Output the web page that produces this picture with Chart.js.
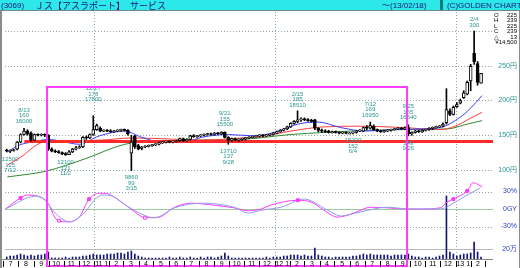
<!DOCTYPE html>
<html>
<head>
<meta charset="utf-8">
<script src="https://cdn.jsdelivr.net/npm/chart.js@4.4.1/dist/chart.umd.min.js"></script>
<style>
  html, body { margin: 0; padding: 0; background: #fff; overflow: hidden; }
  #myChart { display: block; }
</style>
</head>
<body>
<canvas id="myChart" width="520" height="268"></canvas>
<script>
// weekly candles, first week starts Mon 2010-07-05
const firstWeek = '2010-07-05';

const opens = [128,127,128,130,140,151,156,153,143,151, 150,151,150,130,127,126,125,123,122,126,
  130,132,133,147,146,151,158,160,156,157, 156,155,156,157,158,157,124,149,135,131,
  133,134,135,136,137,139,140,141,140,141, 142,145,142,144,149,148,149,150,151,152,
  151,153,152,154,147,143,145,143,144,145, 146,147,148,149,150,149,150,151,153,155,
  157,159,162,167,170,172,173,172,171,172, 160,157,156,156,155,155,154,153,154,153,
  153,154,156,156,161,160,163,158,156,155, 156,157,158,159,160,159,161,152,154,156,
  155,157,158,160,161,162,163,168,185,180, 191,196,204,209,228,268,253,225];
const highs = [130,129,130,141,152,160,158,155,152,152, 152,152,151,132,129,128,126,125,128,131,
  134,135,148,149,152,178,166,162,158,158, 158,157,158,159,159,158,150,150,137,134,
  135,136,137,138,140,141,142,142,142,143, 146,146,145,150,151,150,151,152,153,153,
  154,154,155,155,148,146,146,145,146,147, 148,149,150,151,151,151,152,154,156,158,
  160,163,168,171,185,175,175,174,173,173, 161,159,158,157,156,156,155,155,155,154,
  155,157,158,162,164,169,165,159,157,157, 158,159,160,161,161,162,165,155,157,157,
  158,159,161,162,163,164,168,217,188,192, 197,202,214,228,252,300,256,239];
const lows = [126,125,127,129,139,150,150,141,142,149, 149,148,128,126,125,124,122,121,122,125,
  129,131,132,144,145,150,157,155,155,155, 154,154,155,156,156,150,99,131,129,129,
  132,133,134,135,136,138,139,139,139,140, 141,141,141,143,147,147,148,149,150,150,
  150,151,151,146,137,141,142,141,142,143, 145,146,147,147,148,148,149,150,152,154,
  156,158,161,166,168,170,171,170,169,158, 155,154,154,153,153,153,152,152,152,152,
  152,153,155,155,158,159,157,155,154,154, 155,156,157,158,158,158,149,150,153,154,
  154,156,157,158,160,161,162,166,178,179, 190,195,203,208,214,252,222,225];
const closes = [127,128,129,140,151,156,152,143,151,150, 151,150,130,127,126,125,123,122,126,130,
  132,133,147,146,151,158,164,156,157,156, 155,156,157,158,157,152,140,133,130,133,
  134,135,136,137,139,140,141,140,141,142, 145,142,144,149,148,149,150,151,152,151,
  153,152,154,147,143,145,143,144,145,146, 147,148,149,150,149,150,151,153,155,157,
  159,162,167,170,172,173,172,171,170,160, 157,156,155,154,155,154,153,154,153,153,
  154,156,157,161,160,164,158,156,155,156, 157,158,159,160,159,161,152,154,156,155,
  157,158,160,161,162,163,166,187,180,190, 194,200,211,226,249,256,226,239];
// volume in 万株
const volumes = [4,6,6,8,10,8,6,8,6,8, 8,10,14,2,2,2,2,4,2,4,
  4,4,6,6,8,10,8,8,8,10, 10,10,12,12,10,14,16,10,6,4,
  2,2,2,2,2,2,2,4,2,2, 4,2,2,4,2,2,4,2,4,4,
  2,4,6,12,6,2,2,2,2,2, 2,2,2,2,2,4,2,4,4,4,
  6,6,8,8,8,6,8,6,6,22, 8,6,4,4,2,4,4,4,4,4,
  6,6,8,10,8,10,8,8,8,8, 8,6,8,8,8,8,10,6,4,4,
  2,4,4,2,4,6,8,126,14,10, 6,8,10,10,12,34,14,4];

// moving averages (week position, price)
const ma13Weeks = [0.7,4.2,8.8,12.5,16.5,21.4,27.2,34.6,39.5,45.3,51.9,56.8,64.5,72.0,77.7,84.6,90.4,97.0,104.2,112.2,120.0,125.7,131.5,134.3,137.8];
const ma13 =      [126,136,141,144,141,137,149,156,147,140,140,147,151,149,154,166,169,161,156,158,159,161,176,188,207];
const ma26Weeks = [0.7,5.0,8.8,11.6,19.4,28.0,36.6,45.3,56.8,68.3,74.0,82.6,92.1,102.7,115.1,125.7,130.0,134.3,137.8];
const ma26 =      [107,120,135,141,142,143,146,145,143,146,148,156,162,163,161,158,163,174,183];
const ma52Weeks = [0.7,11.6,23.1,34.6,42.4,56.8,68.3,82.6,92.1,112.2,127.7,133.5,137.8];
const ma52 =      [90,98,116,137,141,143,144,151,154,158,159,166,171];

const supportPrice = 141;
const supportFromWeek = 5.6;

// oscillator (%), two lines
const oscPinkWeeks = [0.1,4.5,6.5,10.8,12.2,15.1,18.0,21.4,24.3,27.2,28.9,32.9,37.5,40.4,44.4,49.0,53.9,59.6,66.2,70.3,74.0,76.9,84.6,88.4,92.1,96.1,100.7,105.6,110.5,115.1,120.0,125.7,127.7,129.5,133.5,135.2,137.8];
const oscPink =      [0,19,24,19,12,-19,-22,-14,17,27,27,15,-5,-15,-14,3,10,7,2,-3,0,7,15,12,-2,-14,-7,3,2,0,0,2,12,17,31,45,38];
const oscBlueWeeks = [0.1,8.8,11.6,14.5,18.8,22.3,28.0,30.9,35.8,43.2,49.0,56.8,66.2,70.3,74.0,79.7,86.4,93.2,97.0,102.7,110.5,117.1,125.7,129.5,133.5,137.2];
const oscBlue =      [0,22,15,-7,-22,-10,24,22,3,-15,2,10,3,-7,-2,3,17,-2,-12,-5,3,0,0,10,24,36];
const crossWeeks = [4.5,15.6,24.3,40.4,84.6,129.5,133.5];
const crossValues = [19,-20,17,-15,15,17,31];
const crossUp = [true,false,true,false,true,true,true];

const priceTicks = [100,150,200,250,300];
const priceLabels = [100,150,200,250];
const oscTicks = [30,0,-30];
const oscLabels = ['30%','0GY','-30%'];
const volTick = 20;
const volLabel = '20万';
const yearStarts = ['2011-01-01','2012-01-01','2013-01-01'];
const monthLabels = ['7','8','9','10','11','12','11 1','2','3','4','5','6','7','8','9','10','11','12',
  '12 1','2','3','4','5','6','7','8','9','10','11','12','13 1','2'];

const notes = [
  { week: 1, price: 125, side: 'below', text: ['12500','125','7/12'] },
  { week: 5, price: 160, side: 'above', text: ['8/13','160','16000'] },
  { week: 17, price: 121, side: 'below', text: ['12100','121','11/2'] },
  { week: 25, price: 178, side: 'above', text: ['12/27','178','17800'] },
  { week: 36, price: 99, side: 'below', text: ['9860','99','3/15'] },
  { week: 63, price: 155, side: 'above', text: ['9/21','155','15500'] },
  { week: 64, price: 137, side: 'below', text: ['13710','137','9/28'] },
  { week: 84, price: 185, side: 'above', text: ['2/15','185','18510'] },
  { week: 100, price: 152, side: 'below', text: ['15200','152','6/4'] },
  { week: 105, price: 169, side: 'above', text: ['7/12','169','16950'] },
  { week: 116, price: 165, side: 'above', text: ['9/25','165','16540'] },
  { week: 116, price: 149, side: 'below', text: ['149','9/26'] },
  { week: 135, price: 300, side: 'above', text: ['2/4','300'] }
];
const noteGap = [7, 7, 7, 16, 7, 7, 7, 6, 7, 7, 7, 7, 6];

const boxFromWeek = 12;
const boxToWeek = 116;
const boxTopPrice = 219;

const title = ['(3069)', 'Ｊス', '【アスラポート】', 'サービス'];
const dateText = '～(13/02/18)';
const brand = '(C)GOLDEN CHART';
const lastChange = 13;
const lastAmount = '¥14,500';

const t0 = Date.parse(firstWeek + 'T00:00:00Z');
const weekMs = 7 * 864e5;
function weekOfMs(ms) { return (ms - t0) / weekMs; }
function weekOf(d) { return weekOfMs(Date.parse(d + 'T00:00:00Z')); }

const last = closes.length - 1;
const bodies = opens.map((o, i) => ({ x: i + 0.5, y: [Math.min(o, closes[i]), Math.max(o, closes[i])] }));
const wicks = highs.map((h, i) => ({ x: i + 0.5, y: [lows[i], h] }));
const vols = volumes.map((v, i) => ({ x: i + 0.5, y: v }));
const pts = (xs, ys) => xs.map((w, i) => ({ x: w, y: ys[i] }));

const TEAL = '#2a9595';
const BLUE_TXT = '#2c3cc8';

const decor = {
  id: 'decor',
  beforeDatasetsDraw(chart) {
    const { ctx, chartArea: a } = chart;
    const { x, y, yo, yv } = chart.scales;
    ctx.save();
    ctx.lineWidth = 1;
    const hline = (py) => {
      py = Math.round(py) + 0.5;
      ctx.beginPath(); ctx.moveTo(a.left, py); ctx.lineTo(a.right, py); ctx.stroke();
    };
    ctx.strokeStyle = '#8fa6a6';
    ctx.setLineDash([1, 2]);
    priceTicks.forEach(v => hline(y.getPixelForValue(v)));
    oscTicks.filter(v => v !== 0).forEach(v => hline(yo.getPixelForValue(v)));
    yearStarts.forEach(d => {
      const px = Math.round(x.getPixelForValue(weekOf(d))) + 0.5;
      ctx.beginPath(); ctx.moveTo(px, a.top); ctx.lineTo(px, a.bottom); ctx.stroke();
    });
    ctx.setLineDash([]);
    ctx.strokeStyle = '#9ccc9c';
    hline(yo.getPixelForValue(0));
    ctx.strokeStyle = '#b8b8b8';
    hline(yv.getPixelForValue(volTick));
    ctx.restore();
  },
  afterDatasetsDraw(chart) {
    const { ctx, chartArea: a } = chart;
    const { x, y, yo, yv } = chart.scales;
    const W = chart.width, H = chart.height;
    ctx.save();

    // high / low notes
    ctx.font = '6px "Liberation Sans"';
    ctx.fillStyle = TEAL;
    ctx.textAlign = 'center';
    ctx.textBaseline = 'middle';
    notes.forEach((n, k) => {
      const px = x.getPixelForValue(n.week + 0.5);
      const py = y.getPixelForValue(n.price);
      const cnt = n.text.length;
      n.text.forEach((s, j) => {
        const ty = n.side === 'above'
          ? py - noteGap[k] - (cnt - 1 - j) * 5.5
          : py + noteGap[k] + j * 5.5;
        ctx.fillText(s, px, ty);
      });
    });

    // magenta period box
    ctx.strokeStyle = '#ff3cff';
    ctx.lineWidth = 2;
    const bx1 = x.getPixelForValue(boxFromWeek), bx2 = x.getPixelForValue(boxToWeek);
    const by1 = y.getPixelForValue(boxTopPrice), by2 = a.bottom + 7;
    ctx.strokeRect(Math.round(bx1), Math.round(by1), Math.round(bx2 - bx1), Math.round(by2 - by1));

    // month row
    ctx.lineWidth = 1;
    ctx.strokeStyle = '#888';
    ctx.beginPath(); ctx.moveTo(0, a.bottom + 0.5); ctx.lineTo(a.right, a.bottom + 0.5); ctx.stroke();
    ctx.strokeStyle = '#000';
    ctx.fillStyle = '#000';
    ctx.font = '7px "Liberation Sans"';
    for (let k = 0; k <= monthLabels.length; k++) {
      const p1 = x.getPixelForValue(weekOfMs(Date.UTC(2010, 6 + k, 1)));
      const bx = Math.round(p1) + 0.5;
      ctx.beginPath(); ctx.moveTo(bx, a.bottom + 2); ctx.lineTo(bx, H - 1); ctx.stroke();
      if (k < monthLabels.length) {
        const p2 = x.getPixelForValue(weekOfMs(Date.UTC(2010, 7 + k, 1)));
        ctx.fillText(monthLabels[k], (p1 + p2) / 2, a.bottom + 5);
      }
    }

    // right labels
    ctx.textAlign = 'right';
    ctx.font = '7px "Liberation Sans", "Noto Sans CJK JP"';
    ctx.fillStyle = TEAL;
    priceLabels.forEach(v => ctx.fillText(v + '円', W - 3, y.getPixelForValue(v)));
    ctx.fillStyle = BLUE_TXT;
    oscTicks.forEach((v, i) => ctx.fillText(oscLabels[i], W - 3, yo.getPixelForValue(v)));
    ctx.fillText(volLabel, W - 3, yv.getPixelForValue(volTick));

    // last bar box
    ctx.font = '6px "Liberation Sans", "DejaVu Sans"';
    ctx.fillStyle = '#000';
    const rows = [['O', opens[last]], ['H', highs[last]], ['L', lows[last]], ['C', closes[last]], ['△', lastChange]];
    rows.forEach((r, i) => {
      const ry = 15 + i * 5.5;
      ctx.textAlign = 'left'; ctx.fillText(r[0], 494, ry);
      ctx.textAlign = 'right'; ctx.fillText(String(r[1]), W - 3, ry);
    });
    ctx.fillText(lastAmount, W - 3, 15 + 5 * 5.5);

    // header
    ctx.fillStyle = '#2ce8e8';
    ctx.fillRect(0, 0, W, 11);
    ctx.fillStyle = '#6c8c8c';
    ctx.fillRect(0, 10, W, 1);
    ctx.fillStyle = '#127a7a';
    ctx.fillRect(440, 0, 3, 10);
    ctx.fillStyle = '#16167a';
    ctx.textAlign = 'left';
    ctx.textBaseline = 'middle';
    ctx.font = '8px "Liberation Sans"';
    ctx.fillText(title[0], 1, 5.5);
    ctx.font = '9px "Noto Sans CJK JP"';
    ctx.fillText(title[1], 35, 5.5);
    ctx.fillText(title[2], 53, 5.5);
    ctx.fillText(title[3], 130, 5.5);
    ctx.font = '8px "Liberation Sans", "Noto Sans CJK JP"';
    ctx.fillText(dateText, 382, 5.5);
    ctx.fillText(brand, 447, 5.5);

    // frame
    ctx.fillStyle = '#8a8a8a';
    ctx.fillRect(0, 11, 2, H - 11);
    ctx.fillRect(W - 1, 11, 1, H - 11);
    ctx.restore();
  }
};

new Chart(document.getElementById('myChart'), {
  type: 'bar',
  data: {
    datasets: [
      { type: 'bar', data: bodies, yAxisID: 'y', order: 1, grouped: false,
        barThickness: 3, minBarLength: 1, borderSkipped: false, borderWidth: 1,
        borderColor: '#000',
        backgroundColor: opens.map((o, i) => closes[i] >= o ? '#fff' : '#000') },
      { type: 'bar', data: wicks, yAxisID: 'y', order: 2, grouped: false,
        barThickness: 1, backgroundColor: '#000' },
      { type: 'line', data: [{ x: supportFromWeek, y: supportPrice }, { x: 141, y: supportPrice }],
        yAxisID: 'y', order: 4, borderColor: '#ff2a2a', borderWidth: 3, pointRadius: 0 },
      { type: 'line', data: pts(ma13Weeks, ma13), yAxisID: 'y', order: 5, borderColor: '#3c3cff',
        borderWidth: 1, pointRadius: 0, cubicInterpolationMode: 'monotone' },
      { type: 'line', data: pts(ma26Weeks, ma26), yAxisID: 'y', order: 5, borderColor: '#ff3c3c',
        borderWidth: 1, pointRadius: 0, cubicInterpolationMode: 'monotone' },
      { type: 'line', data: pts(ma52Weeks, ma52), yAxisID: 'y', order: 5, borderColor: '#2e8a2e',
        borderWidth: 1, pointRadius: 0, cubicInterpolationMode: 'monotone' },
      { type: 'line', data: pts(oscBlueWeeks, oscBlue), yAxisID: 'yo', order: 6, borderColor: '#8fa0ee',
        borderWidth: 1, pointRadius: 0, cubicInterpolationMode: 'monotone' },
      { type: 'line', data: pts(oscPinkWeeks, oscPink), yAxisID: 'yo', order: 6, borderColor: '#ff38ff',
        borderWidth: 1, pointRadius: 0, cubicInterpolationMode: 'monotone' },
      { type: 'line', data: pts(crossWeeks, crossValues), yAxisID: 'yo', order: 0, showLine: false,
        pointStyle: 'rect', pointRadius: 2, pointBorderWidth: 1, pointBorderColor: '#ff38ff',
        pointBackgroundColor: crossUp.map(u => u ? '#ff38ff' : '#fff') },
      { type: 'bar', data: vols, yAxisID: 'yv', order: 10, grouped: false,
        barThickness: 1, backgroundColor: '#14147a' }
    ]
  },
  options: {
    responsive: false,
    animation: false,
    devicePixelRatio: 1,
    layout: { padding: { left: 2.5, right: 27, top: 12, bottom: 9 } },
    plugins: { legend: { display: false }, tooltip: { enabled: false } },
    scales: {
      x: { type: 'linear', min: 0, max: 140.95, offset: false, display: false },
      y: { min: -28.1, max: 327.3, display: false },
      yo: { min: -85.7, max: 337.7, display: false },
      yv: { min: 0, max: 494, display: false }
    }
  },
  plugins: [decor]
});
</script>
</body>
</html>
